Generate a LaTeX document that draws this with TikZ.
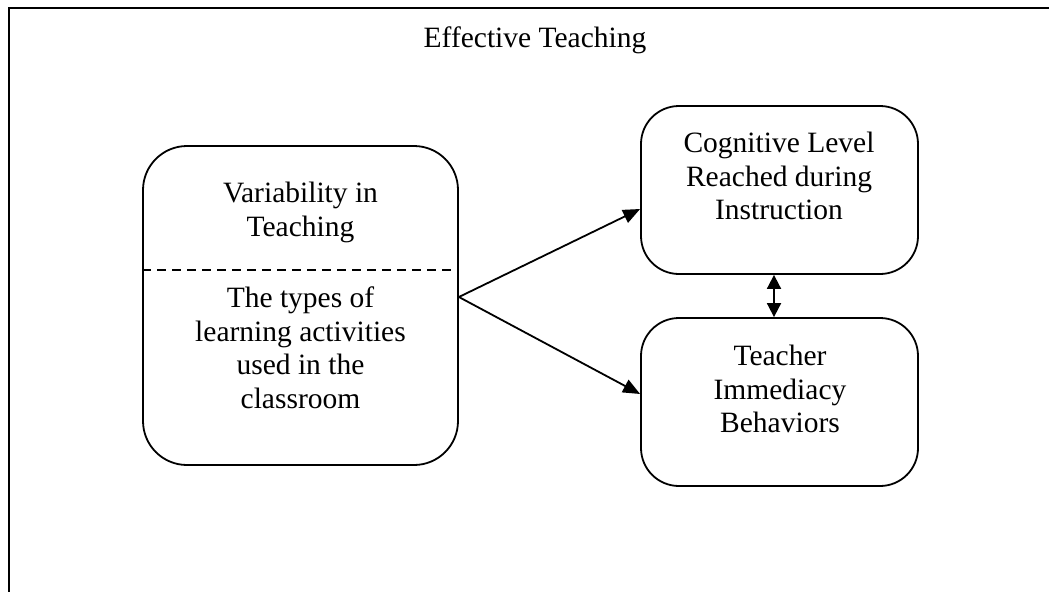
\documentclass[tikz,border=0pt]{standalone}
\usepackage{fontspec}
\setmainfont{Liberation Serif}
\usetikzlibrary{arrows.meta}
\begin{document}
\begin{tikzpicture}[x=1pt,y=-1pt,
  frame/.style={line width=2.4pt},
  box/.style={draw, line width=1.8pt, inner sep=0pt},
  lbl/.style={align=center, inner sep=0pt, anchor=north, font=\fontsize{29.5}{33.5}\selectfont},
  divider/.style={line width=1.8pt, dash pattern=on 9pt off 6pt},
  arr/.style={line width=1.8pt, -{Triangle[length=17pt,width=14pt]}},
  dblarr/.style={line width=1.8pt, {Triangle[length=14pt,width=14pt]}-{Triangle[length=14pt,width=14pt]}}]
\useasboundingbox (0,0) rectangle (1049,592);
\coordinate (ftr) at (1049,8);
\coordinate (ftl) at (9,8);
\coordinate (fbl) at (9,592);
\draw[frame] (ftr) -- (ftl) -- (fbl);
\node[font=\fontsize{29.5}{33.5}\selectfont, anchor=base, inner sep=0pt] (title) at (535,47) {Effective Teaching};
\node[box, rounded corners=44pt, minimum width=315pt, minimum height=319pt] (var) at (300.5,305.5) {};
\node[box, rounded corners=38pt, minimum width=277pt, minimum height=168pt] (cog) at (779.5,190) {};
\node[box, rounded corners=38pt, minimum width=277pt, minimum height=168pt] (tch) at (779.5,402) {};
\draw[divider] ([yshift=35.5pt]var.west) -- ([yshift=35.5pt]var.east);
\node[lbl] (vart) at (300.5,182) {Variability in\\Teaching};
\node[lbl] (varb) at (300.5,287) {The types of\\learning activities\\used in the\\classroom};
\node[lbl] (cogt) at (779,132) {Cognitive Level\\Reached during\\Instruction};
\node[lbl] (tcht) at (780,345) {Teacher\\Immediacy\\Behaviors};
\coordinate (fork) at ([yshift=8.5pt]var.east);
\draw[arr] (fork) -- ([yshift=-19pt]cog.west);
\draw[arr] (fork) -- ([yshift=8pt]tch.west);
\draw[dblarr] ([xshift=-5.5pt]cog.south) -- ([xshift=-5.5pt]tch.north);
\end{tikzpicture}
\end{document}
